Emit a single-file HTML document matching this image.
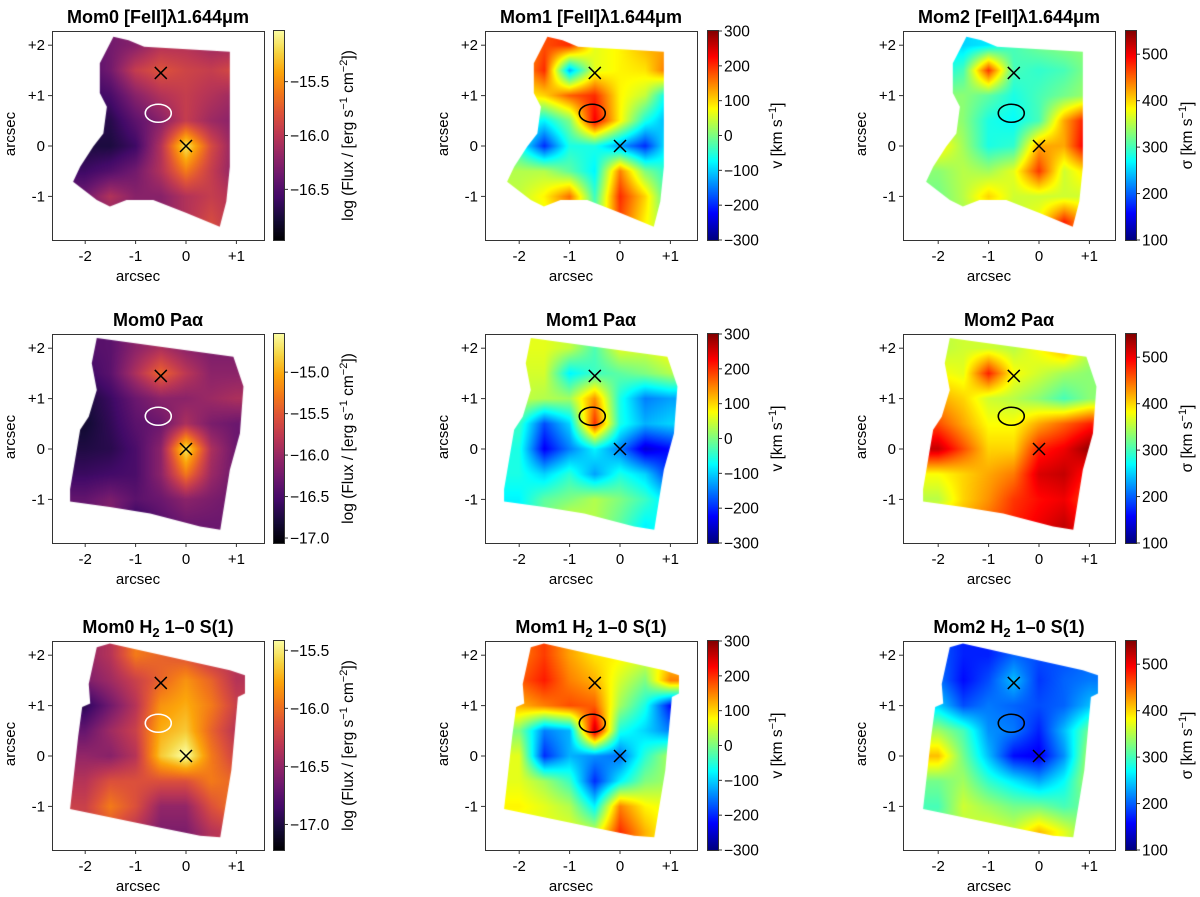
<!DOCTYPE html>
<html><head><meta charset="utf-8">
<style>
html,body{margin:0;padding:0;background:#fff;}
#wrap{position:relative;width:1200px;height:897px;overflow:hidden;font-family:"Liberation Sans","DejaVu Sans",sans-serif;}
canvas{position:absolute;}
svg{position:absolute;left:0;top:0;}
</style></head>
<body>
<div id="wrap">
<svg id="ov" width="1200" height="897"></svg>
</div>
<script>
// ---- data ----
const xCoords=[-2,-1.5,-1,-0.5,0,0.5,1];
const yCoords=[2,1.5,1,0.5,0,-0.5,-1,-1.5];
const mom0Fe=[[-16.45,-16.35,-16.25,-16.05,-16.05,-16.15,-16.15],[-16.55,-16.35,-15.95,-15.8,-15.9,-15.95,-15.85],[-16.65,-16.55,-16.25,-16.05,-15.95,-16.05,-16.15],[-16.7,-16.7,-16.45,-16.25,-15.95,-16.15,-16.25],[-16.75,-16.75,-16.6,-16.05,-15.15,-15.85,-16.25],[-16.6,-16.5,-16.35,-16.05,-15.6,-15.95,-16.25],[-16.35,-16.05,-16.25,-16.25,-16.05,-15.95,-16.05],[-16.35,-16.25,-16.25,-16.25,-16.05,-15.85,-16.05]];
const mom1Fe=[[100,180,200,60,80,120,130],[120,200,-120,60,80,90,170],[70,100,170,200,80,40,-100],[-40,-80,0,230,80,-60,-130],[-60,-200,-60,-60,-130,-200,-60],[30,30,-20,-80,150,0,-60],[40,80,160,-40,200,100,-60],[40,60,100,0,180,80,0]];
const mom2Fe=[[260,250,260,300,320,330,330],[270,300,470,300,290,300,330],[330,330,310,280,300,320,340],[350,330,280,270,300,420,500],[390,340,280,290,420,420,520],[330,350,340,370,470,360,400],[320,350,400,360,360,360,360],[330,340,360,350,380,480,400]];
const mom0Pa=[[-16.45,-16.4,-16.1,-15.9,-16.1,-16.2,-16.2],[-16.6,-16.4,-15.9,-15.4,-15.8,-16.1,-16.1],[-16.8,-16.6,-16.3,-16.1,-16.1,-16.0,-15.9],[-16.85,-16.65,-16.4,-16.3,-15.9,-16.2,-16.3],[-16.75,-16.7,-16.5,-16.1,-14.7,-15.9,-16.3],[-16.6,-16.55,-16.5,-16.1,-15.3,-16.0,-16.3],[-16.35,-16.2,-16.4,-16.3,-16.1,-16.2,-16.3],[-16.35,-16.1,-16.7,-16.45,-16.3,-16.3,-16.3]];
const mom1Pa=[[60,60,40,-30,60,50,80],[50,50,-80,-40,-20,0,30],[40,30,20,140,-60,-150,-130],[-40,-180,-100,200,-60,-120,-100],[-60,-230,-150,-80,-150,-250,-220],[-60,-100,-50,-130,-60,-100,-200],[-80,-20,0,30,0,-40,-100],[-80,0,60,30,-20,-80,-60]];
const mom2Pa=[[350,360,360,350,380,420,350],[380,370,480,380,360,340,330],[420,400,360,350,330,300,330],[460,420,380,380,420,450,480],[520,460,400,400,480,500,540],[380,400,420,440,510,520,480],[350,400,430,470,490,500,460],[400,420,450,480,500,520,480]];
const mom0H2=[[-16.5,-16.35,-15.95,-16.05,-16.15,-16.35,-16.35],[-16.6,-16.45,-16.25,-16.05,-15.85,-16.05,-16.35],[-16.95,-16.65,-16.35,-15.85,-15.75,-15.95,-16.25],[-16.7,-16.45,-16.25,-15.75,-15.65,-16.05,-16.35],[-16.5,-16.55,-16.35,-15.65,-15.4,-15.95,-16.25],[-16.35,-16.15,-16.15,-16.15,-16.15,-15.95,-16.05],[-16.25,-15.95,-16.15,-16.5,-16.5,-16.15,-15.95],[-16.25,-16.15,-16.35,-16.6,-16.6,-16.35,-16.25]];
const mom1H2=[[150,190,130,90,80,60,80],[170,210,150,120,50,0,150],[120,150,180,170,20,-60,-220],[0,-150,-120,260,-60,-100,-150],[60,-200,-120,-140,-160,-50,30],[60,20,-40,-200,-80,0,20],[80,60,30,-80,150,80,60],[60,60,60,40,200,120,60]];
const mom2H2=[[200,170,170,200,190,190,200],[210,160,190,240,180,200,210],[250,190,210,200,190,200,240],[340,300,220,210,170,240,320],[410,320,240,160,150,220,350],[320,340,290,260,230,270,350],[300,360,340,320,320,300,320],[320,350,370,360,410,370,320]];
const xTicks=[-2,-1,0,1];
const xTickLabels=["-2","-1","0","+1"];
const yTicks=[2,1,0,-1];
const yTickLabels=["+2","+1","0","-1"];
const markers=[[-0.5,1.45],[0,0]];
const apertureCenter=[-0.55,0.65];
const mom0Ticks1=[-15.5,-16.0,-16.5];
const mom0Ticks2=[-15.0,-15.5,-16.0,-16.5,-17.0];
const mom0Ticks3=[-15.5,-16.0,-16.5,-17.0];
const mom1Ticks=[300,200,100,0,-100,-200,-300];
const mom2Ticks=[500,400,300,200,100];

// ---- geometry ----
const SC=50.4;
const colX0=[186,620,1039];
const colLeft=[52,485,903];
const rowY0=[146,449,756];
const AW=212, AH=209;
const cbX=[273,707,1125];
const maskRow=[
 [[-1.44,2.17],[-1.14,2.1],[-0.83,1.97],[0.87,1.87],[0.87,-0.41],[0.8,-1.1],[0.67,-1.6],[0.01,-1.33],[-0.65,-1.07],[-1.18,-1.07],[-1.51,-1.2],[-1.77,-1.07],[-2.24,-0.71],[-2.1,-0.41],[-1.84,-0.01],[-1.64,0.25],[-1.57,0.78],[-1.71,1.05],[-1.71,1.64]],
 [[-1.77,2.2],[0.94,1.83],[1.14,1.24],[1.07,0.31],[0.87,-0.41],[0.68,-1.6],[0.28,-1.54],[-0.71,-1.28],[-1.51,-1.15],[-2.3,-1.04],[-2.3,-0.8],[-2.1,0.38],[-1.93,0.64],[-1.77,1.17],[-1.87,1.7]],
 [[-1.77,2.16],[-1.51,2.23],[-1.18,2.16],[0.87,1.7],[1.17,1.6],[1.17,1.24],[1.03,1.17],[0.9,-0.28],[0.68,-1.61],[0.28,-1.58],[-0.58,-1.41],[-2.3,-1.05],[-2.14,0.38],[-2.06,0.97],[-1.9,1.04],[-1.93,1.43]]
];

// ---- colormaps ----
const infernoStops=[[0,0,0,4],[0.1,22,11,57],[0.2,66,10,104],[0.3,106,23,110],[0.4,147,38,103],[0.5,188,55,84],[0.6,221,81,58],[0.7,243,120,25],[0.8,252,165,10],[0.9,246,215,70],[1,252,255,164]];
function inferno(t){t=Math.max(0,Math.min(1,t));for(let i=1;i<infernoStops.length;i++){const a=infernoStops[i-1],b=infernoStops[i];if(t<=b[0]){const f=(t-a[0])/(b[0]-a[0]);return [a[1]+f*(b[1]-a[1]),a[2]+f*(b[2]-a[2]),a[3]+f*(b[3]-a[3])];}}return [252,255,164];}
function jet(t){t=Math.max(0,Math.min(1,t));const c=v=>Math.max(0,Math.min(1,v));
 const r=c(1.5-Math.abs(4*t-3)),g=c(1.5-Math.abs(4*t-2)),b=c(1.5-Math.abs(4*t-1));return [r*255,g*255,b*255];}

function interp(grid,x,y){
 let fi=(x-xCoords[0])/0.5, gi=(yCoords[0]-y)/0.5;
 fi=Math.max(0,Math.min(xCoords.length-1,fi)); gi=Math.max(0,Math.min(yCoords.length-1,gi));
 const i0=Math.min(Math.floor(fi),xCoords.length-2), j0=Math.min(Math.floor(gi),yCoords.length-2);
 const fx=fi-i0, fy=gi-j0;
 const a=grid[j0][i0],b=grid[j0][i0+1],c=grid[j0+1][i0],d=grid[j0+1][i0+1];
 return (a*(1-fx)+b*fx)*(1-fy)+(c*(1-fx)+d*fx)*fy;
}

const titles=[
 ["Mom0 [FeII]λ1.644μm","Mom1 [FeII]λ1.644μm","Mom2 [FeII]λ1.644μm"],
 ["Mom0 Paα","Mom1 Paα","Mom2 Paα"],
 ["Mom0 H<tspan font-size='13' dy='4'>2</tspan><tspan dy='-4'> 1–0 S(1)</tspan>","Mom1 H<tspan font-size='13' dy='4'>2</tspan><tspan dy='-4'> 1–0 S(1)</tspan>","Mom2 H<tspan font-size='13' dy='4'>2</tspan><tspan dy='-4'> 1–0 S(1)</tspan>"]
];
const panels=[
 [{g:mom0Fe,cm:inferno,vmin:-16.97,vmax:-15.03,ticks:mom0Ticks1,kind:0},{g:mom1Fe,cm:jet,vmin:-300,vmax:300,ticks:mom1Ticks,kind:1},{g:mom2Fe,cm:jet,vmin:100,vmax:550,ticks:mom2Ticks,kind:2}],
 [{g:mom0Pa,cm:inferno,vmin:-17.06,vmax:-14.54,ticks:mom0Ticks2,kind:0},{g:mom1Pa,cm:jet,vmin:-300,vmax:300,ticks:mom1Ticks,kind:1},{g:mom2Pa,cm:jet,vmin:100,vmax:550,ticks:mom2Ticks,kind:2}],
 [{g:mom0H2,cm:inferno,vmin:-17.22,vmax:-15.42,ticks:mom0Ticks3,kind:0},{g:mom1H2,cm:jet,vmin:-300,vmax:300,ticks:mom1Ticks,kind:1},{g:mom2H2,cm:jet,vmin:100,vmax:550,ticks:mom2Ticks,kind:2}]
];
const cbTitles=["log (Flux / [erg s<tspan font-size='11' dy='-6'>−1</tspan><tspan dy='6'> cm</tspan><tspan font-size='11' dy='-6'>−2</tspan><tspan dy='6'>])</tspan>","v [km s<tspan font-size='11' dy='-6'>−1</tspan><tspan dy='6'>]</tspan>","σ [km s<tspan font-size='11' dy='-6'>−1</tspan><tspan dy='6'>]</tspan>"];
const cbTitleX=[353,782,1192];

const wrap=document.getElementById('wrap');
const ov=document.getElementById('ov');
let svgStr='';
function fmt(v,kind){if(kind===0)return (v<0?'−':'')+Math.abs(v).toFixed(1);return (v<0?'−':'')+Math.abs(v);}

for(let r=0;r<3;r++){for(let c=0;c<3;c++){
 const p=panels[r][c];
 const x0=colX0[c], y0=rowY0[r], L=colLeft[c], T=y0-115;
 const px=v=>x0+v*SC, py=v=>y0-v*SC;
 const off=document.createElement('canvas');off.width=AW;off.height=AH;
 const octx=off.getContext('2d');const img=octx.createImageData(AW,AH);
 for(let j=0;j<AH;j++)for(let i=0;i<AW;i++){
  const ax=(L+i+0.5-x0)/SC, ay=(y0-(T+j+0.5))/SC;
  const v=interp(p.g,ax,ay);const col=p.cm((v-p.vmin)/(p.vmax-p.vmin));
  const k=(j*AW+i)*4;img.data[k]=col[0];img.data[k+1]=col[1];img.data[k+2]=col[2];img.data[k+3]=255;}
 octx.putImageData(img,0,0);
 const cv=document.createElement('canvas');cv.width=AW;cv.height=AH;
 cv.style.left=L+'px';cv.style.top=T+'px';
 
 
 const ctx=cv.getContext('2d');ctx.beginPath();
 maskRow[r].forEach((pt,k)=>{const X=px(pt[0])-L,Y=py(pt[1])-T;k?ctx.lineTo(X,Y):ctx.moveTo(X,Y);});
 ctx.closePath();ctx.save();ctx.clip();ctx.drawImage(off,0,0);ctx.restore();
 wrap.insertBefore(cv,ov);
 const cb=document.createElement('canvas');cb.width=11;cb.height=AH+1;
 cb.style.left=cbX[c]+'px';cb.style.top=(T-1)+'px';
 
 
 const cctx=cb.getContext('2d');
 for(let j=0;j<=AH;j++){const col=p.cm(1-j/AH);cctx.fillStyle=`rgb(${col[0]|0},${col[1]|0},${col[2]|0})`;cctx.fillRect(0,j,11,1);}
 wrap.insertBefore(cb,ov);
 let s=`<g>`;
 s+=`<rect x="${L+0.5}" y="${T+0.5}" width="${AW}" height="${AH}" fill="none" stroke="#333" stroke-width="1"/>`;
 s+=`<text x="${L+AW/2}" y="${T-8}" text-anchor="middle" font-size="18" font-weight="bold">${titles[r][c]}</text>`;
 xTicks.forEach((t,k)=>{const X=px(t);s+=`<line x1="${X}" x2="${X}" y1="${T+AH}" y2="${T+AH+4}" stroke="#333"/><text x="${X}" y="${T+AH+21}" text-anchor="middle" font-size="15">${xTickLabels[k]}</text>`;});
 yTicks.forEach((t,k)=>{const Y=py(t);s+=`<line x1="${L-4}" x2="${L}" y1="${Y}" y2="${Y}" stroke="#333"/><text x="${L-7}" y="${Y+5}" text-anchor="end" font-size="15">${yTickLabels[k]}</text>`;});
 s+=`<text x="${L+AW/2-20}" y="${T+AH+41}" text-anchor="middle" font-size="15">arcsec</text>`;
 s+=`<text transform="translate(${L-37},${y0-12}) rotate(-90)" text-anchor="middle" font-size="15">arcsec</text>`;
 s+=`<ellipse cx="${px(apertureCenter[0])}" cy="${py(apertureCenter[1])}" rx="13" ry="9" fill="none" stroke="${p.kind===0?'#fff':'#000'}" stroke-width="1.6"/>`;
 markers.forEach(m=>{const X=px(m[0]),Y=py(m[1]);s+=`<path d="M${X-6} ${Y-6}L${X+6} ${Y+6}M${X-6} ${Y+6}L${X+6} ${Y-6}" stroke="#000" stroke-width="1.5"/>`;});
 s+=`<rect x="${cbX[c]+0.5}" y="${T-0.5}" width="11" height="${AH+1}" fill="none" stroke="#333"/>`;
 p.ticks.forEach(t=>{const Y=T+(p.vmax-t)/(p.vmax-p.vmin)*AH;s+=`<line x1="${cbX[c]+11}" x2="${cbX[c]+15}" y1="${Y}" y2="${Y}" stroke="#333"/><text x="${cbX[c]+17}" y="${Y+5.5}" font-size="15.5">${fmt(t,p.kind)}</text>`;});
 s+=`<text transform="translate(${cbTitleX[c]},${T+AH/2}) rotate(-90)" text-anchor="middle" font-size="15.5">${cbTitles[c]}</text>`;
 s+='</g>';svgStr+=s;
}}
ov.innerHTML=svgStr;
</script>
</body></html>
